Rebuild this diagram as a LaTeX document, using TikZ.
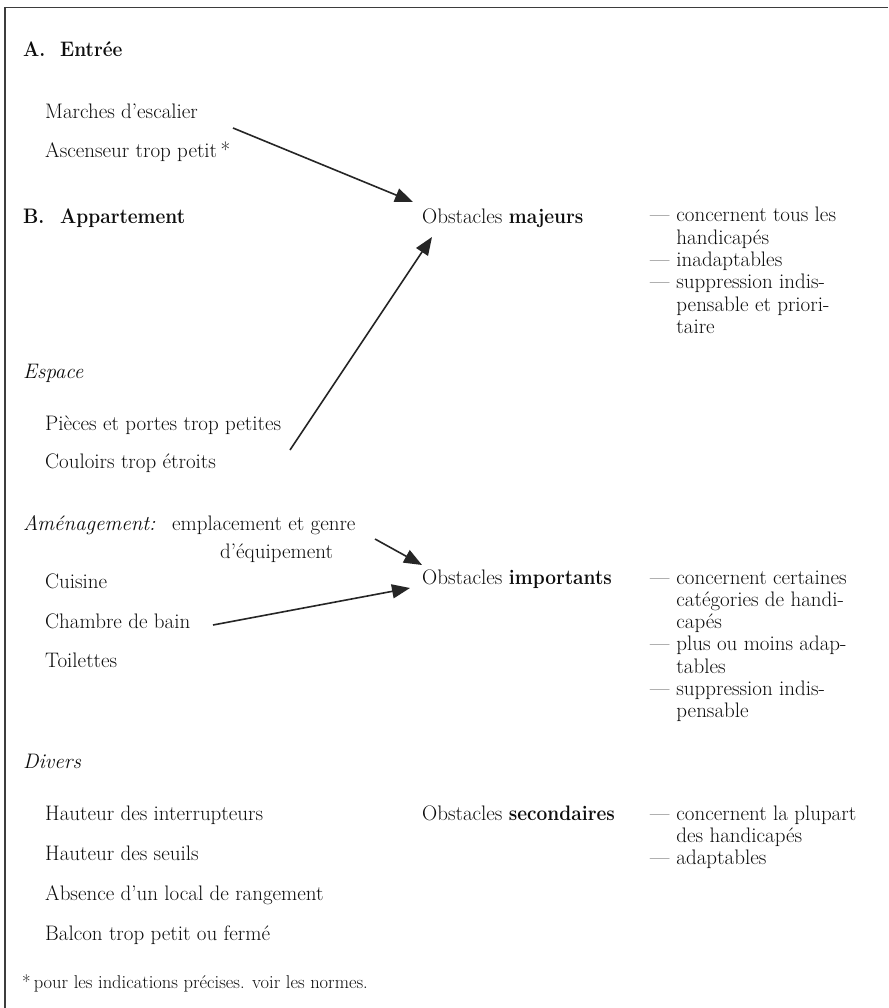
\documentclass[tikz,border=0pt]{standalone}
\usepackage{fontspec}
\usepackage{graphicx}
\usetikzlibrary{arrows.meta}
\definecolor{ink}{gray}{0.05}
\definecolor{arr}{gray}{0.15}
\newcommand\bx[1]{\scalebox{0.91}[1]{\textbf{#1}}}
\begin{document}
\begin{tikzpicture}[x=1pt,y=-1pt,
  txt/.style={anchor=base west,inner sep=0pt,text=ink,font=\fontsize{21}{22.3}\selectfont},
  small/.style={anchor=base west,inner sep=0pt,text=ink,font=\fontsize{18.5}{20}\selectfont},
  link/.style={draw=arr,line width=1.6pt,-{Triangle[length=18pt,width=14pt]}},
  frame/.style={draw=ink!80,line width=1.3pt}]
\useasboundingbox (0,0) rectangle (888,1008);
\fill[white] (0,0) rectangle (888,1008);
\coordinate (ftop) at (888,7.5);
\coordinate (fcorner) at (5,7.5);
\coordinate (fbot) at (5,1008);
\draw[frame] (ftop) -- (fcorner) -- (fbot);

% section A
\node[txt] (la) at (23,57) {\bx{A.}};
\node[txt] (ta) at (60,57) {\bx{Entrée}};
\node[txt] (marches) at (45,119) {Marches d’escalier};
\node[txt] (ascenseur) at (45,158) {Ascenseur trop petit\,*};

% section B
\node[txt] (lb) at (23,223) {\bx{B.}};
\node[txt] (tb) at (60,223) {\bx{Appartement}};
\node[txt] (espace) at (23,378) {\textit{Espace}};
\node[txt] (pieces) at (45,430) {Pièces et portes trop petites};
\node[txt] (couloirs) at (45,468) {Couloirs trop étroits};
\node[txt] (amen) at (23,530) {\textit{Aménagement:}};
\node[txt] (empl) at (172,530) {emplacement et genre};
\node[txt] (equip) at (220,558) {d’équipement};
\node[txt] (cuisine) at (45,588) {Cuisine};
\node[txt] (chambre) at (45,628) {Chambre de bain};
\node[txt] (toilettes) at (45,667) {Toilettes};
\node[txt] (divers) at (23,768) {\textit{Divers}};
\node[txt] (haut1) at (45,820) {Hauteur des interrupteurs};
\node[txt] (haut2) at (45,860) {Hauteur des seuils};
\node[txt] (absence) at (45,900) {Absence d’un local de rangement};
\node[txt] (balcon) at (45,940) {Balcon trop petit ou fermé};
\node[small] (note) at (22,988) {*\,pour les indications précises. voir les normes.};

% obstacles
\node[txt] (omaj) at (422,223) {Obstacles \bx{majeurs}};
\node[txt] (dmaj) at (650,222) {\begin{tabular}[t]{@{}l@{\hspace{7pt}}l@{}}
--- & concernent tous les\\
 & handicapés\\
--- & inadaptables\\
--- & suppression indis-\\
 & pensable et priori-\\
 & taire
\end{tabular}};
\node[txt] (oimp) at (422,584) {Obstacles \bx{importants}};
\node[txt] (dimp) at (650,584) {\begin{tabular}[t]{@{}l@{\hspace{7pt}}l@{}}
--- & concernent certaines\\
 & catégories de handi-\\
 & capés\\
--- & plus ou moins adap-\\
 & tables\\
--- & suppression indis-\\
 & pensable
\end{tabular}};
\node[txt] (osec) at (422,820) {Obstacles \bx{secondaires}};
\node[txt] (dsec) at (650,820) {\begin{tabular}[t]{@{}l@{\hspace{7pt}}l@{}}
--- & concernent la plupart\\
 & des handicapés\\
--- & adaptables
\end{tabular}};

% arrows
\coordinate (s1) at (233,128);
\coordinate (e1) at (413,202);
\coordinate (s2) at (290,450);
\coordinate (e2) at (432,237);
\coordinate (s3) at (375,539);
\coordinate (e3) at (422,565);
\coordinate (s4) at (213,625);
\coordinate (e4) at (410,588);
\draw[link] (s1) -- (e1);
\draw[link] (s2) -- (e2);
\draw[link] (s3) -- (e3);
\draw[link] (s4) -- (e4);
\end{tikzpicture}
\end{document}
